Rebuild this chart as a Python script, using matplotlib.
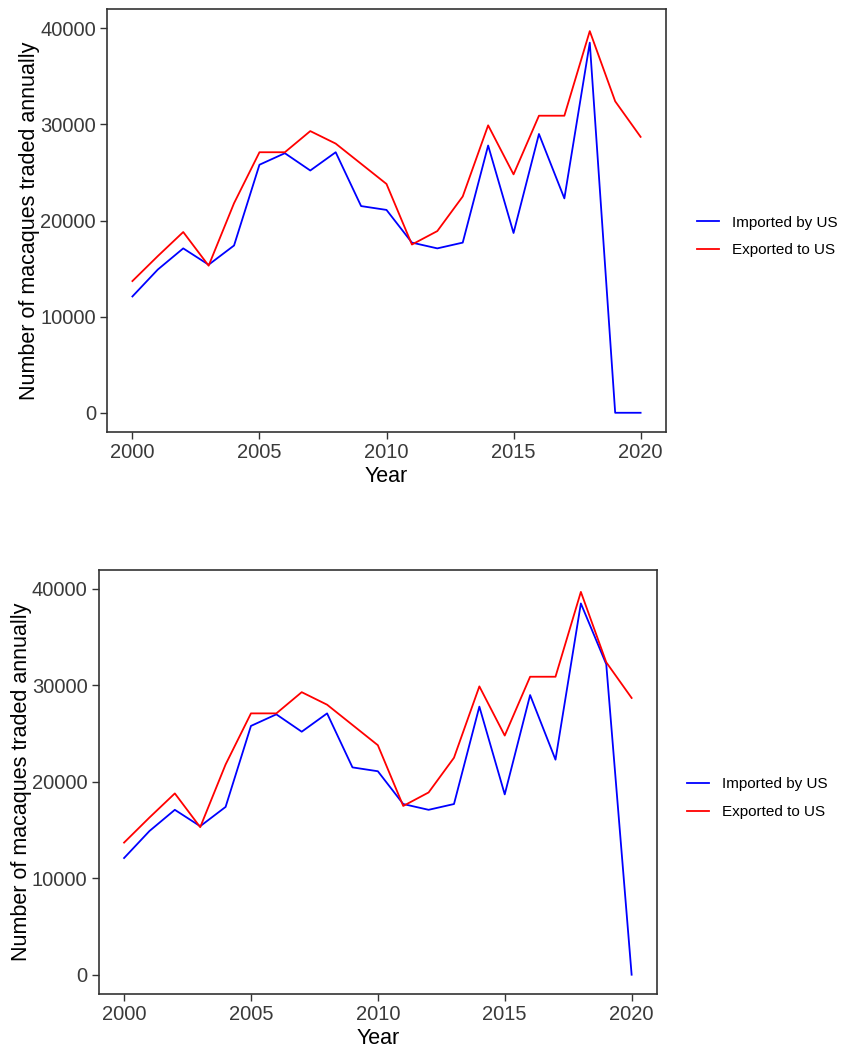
import matplotlib
matplotlib.use("Agg")
import matplotlib.pyplot as plt

plt.rcParams['font.family'] = ['Liberation Sans', 'DejaVu Sans']

years = list(range(2000, 2021))
exported_to_us = [13700, 16300, 18800, 15300, 21800, 27100, 27100, 29300, 28000, 25900,
                  23800, 17500, 18900, 22500, 29900, 24800, 30900, 30900, 39700, 32400, 28700]
imported_top = [12100, 14900, 17100, 15400, 17400, 25800, 27000, 25200, 27100, 21500,
                21100, 17700, 17100, 17700, 27800, 18700, 29000, 22300, 38500, 0, 0]
imported_bottom = [12100, 14900, 17100, 15400, 17400, 25800, 27000, 25200, 27100, 21500,
                   21100, 17700, 17100, 17700, 27800, 18700, 29000, 22300, 38500, 32200, 0]
xticks = [2000, 2005, 2010, 2015, 2020]
yticks = [0, 10000, 20000, 30000, 40000]
labels = ["Imported by US", "Exported to US"]

W, H = 841, 1049
fig = plt.figure(figsize=(W / 100, H / 100), dpi=100)

panels = [
    dict(box=(107, 9, 666, 432), imported=imported_top, leg=(697, 236.5)),
    dict(box=(98.7, 569.7, 657, 994), imported=imported_bottom, leg=(687, 798)),
]

for p in panels:
    l, t, r, b = p['box']
    ax = fig.add_axes([l / W, 1 - b / H, (r - l) / W, (b - t) / H])
    ax.plot(years, p['imported'], color='#0000FF', lw=1.3, label=labels[0])
    ax.plot(years, exported_to_us, color='#FF0000', lw=1.3, label=labels[1])
    ax.set_xlim(1999, 2021)
    ax.set_ylim(-2000, 42000)
    ax.set_xticks(xticks)
    ax.set_yticks(yticks)
    ax.tick_params(axis='both', labelsize=14.5, labelcolor='#3A3A3A', color='#333333',
                   length=5, width=1.0, direction='out', pad=3)
    for s in ax.spines.values():
        s.set_color('#333333')
        s.set_linewidth(1.2)
    ax.set_xlabel("Year", fontsize=15.5, color='black', labelpad=3)
    ax.set_ylabel("Number of macaques traded annually", fontsize=15.5, color='black', labelpad=0)
    lx, ly = p['leg']
    fig.legend(*ax.get_legend_handles_labels(), loc='center left',
               bbox_to_anchor=(lx / W, 1 - ly / H), bbox_transform=fig.transFigure,
               frameon=False, fontsize=11, handlelength=1.45, handletextpad=0.85,
               labelspacing=0.9, borderpad=0, borderaxespad=0)

fig.savefig("out.png", dpi=100)
